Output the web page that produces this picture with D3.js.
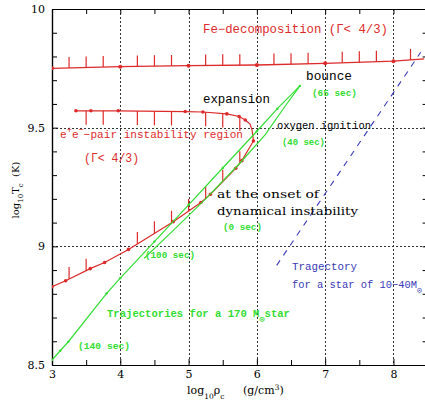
<!DOCTYPE html>
<html><head><meta charset="utf-8">
<script src="https://cdn.jsdelivr.net/npm/d3@7"></script>
<style>body{margin:0;background:#fff;overflow:hidden}</style>
</head><body>
<script>
// ---- axes ----
const xMajor = [3, 4, 5, 6, 7, 8];
const xLabels = ["3", "4", "5", "6", "7", "8"];
const xMinor = [3.5, 4.5, 5.5, 6.5, 7.5, 8.5];
const yMajor = [8.5, 9, 9.5, 10];
const yLabels = ["8.5", "9", "9.5", "10"];
const yMinor = [8.6, 8.7, 8.8, 8.9, 9.1, 9.2, 9.3, 9.4, 9.6, 9.7, 9.8, 9.9];
const xGrid = [4, 5, 6, 7, 8];
const yGrid = [9, 9.5];

// ---- Fe-decomposition boundary ----
const feLine = [[3.0, 9.750], [4.0, 9.757], [5.0, 9.761], [6.0, 9.764], [7.0, 9.771], [8.0, 9.780], [8.45, 9.79]];
const feDotsX = [3, 4, 5, 6, 7, 8];
const feTicksX = [3.25, 3.5, 3.75, 4.25, 4.5, 4.75, 5.25, 5.5, 5.75, 6.25, 6.5, 6.75, 7.25, 7.5, 7.75, 8.25];

// ---- e+e- pair instability boundary ----
const pairUpper = [[3.35, 9.571], [3.57, 9.571], [3.97, 9.571], [4.95, 9.568], [5.21, 9.566], [5.56, 9.558], [5.74, 9.547], [5.83, 9.532]];
const pairTurn = [[5.9, 9.515], [5.93, 9.49], [5.945, 9.455]];
const pairLower = [[5.95, 9.444], [5.78, 9.361], [5.69, 9.329], [5.32, 9.219], [5.18, 9.185], [4.776, 9.104], [4.12, 8.987], [3.77, 8.932], [3.56, 8.906], [3.20, 8.855], [3.0, 8.830]];
const pairUpperTicksX = [3.5, 3.75, 4.25, 4.5, 4.75, 5.25, 5.5, 5.75];
const pairLowerTicksX = [3.25, 3.5, 4.25, 4.5, 4.75, 5.0, 5.25, 5.5, 5.75];

// ---- 170 Msun trajectories ----
const greenExpansion = [[3.0, 8.521], [3.12, 8.56], [3.24, 8.598], [3.8, 8.802], [4.0, 8.866], [4.5, 9.02], [5.0, 9.175], [5.5, 9.33], [6.0, 9.485], [6.3, 9.58], [6.63, 9.676]];
const greenCollapse = [[4.35, 8.95], [4.75, 9.06], [5.25, 9.2], [5.75, 9.35], [6.12, 9.47], [6.4, 9.585], [6.63, 9.676]];

// ---- 10-40 Msun trajectory ----
const blueLine = [[6.29, 8.92], [8.4, 9.818]];

const W = 425, H = 401;
const x = d3.scaleLinear().domain([3, 8.5]).range([52, 427.6]);
const y = d3.scaleLinear().domain([8.5, 10]).range([365, 9]);

const RED = "#dd2a2a", GREEN = "#33dd33", BLUE = "#3a3ab8";
const svg = d3.select("body").append("svg").attr("width", W).attr("height", H);

svg.append("defs").append("clipPath").attr("id", "clip")
  .append("rect").attr("x", x(3)).attr("y", y(10)).attr("width", x(8.5) - x(3)).attr("height", y(8.5) - y(10));

// grid
const grid = svg.append("g").attr("stroke", "#333").attr("stroke-width", 1).attr("stroke-dasharray", "2,2");
grid.selectAll("line.vx").data(xGrid).join("line")
  .attr("x1", d => Math.round(x(d)) + 0.5).attr("x2", d => Math.round(x(d)) + 0.5)
  .attr("y1", y(10)).attr("y2", y(8.5));
grid.selectAll("line.hy").data(yGrid).join("line")
  .attr("y1", d => Math.round(y(d)) + 0.5).attr("y2", d => Math.round(y(d)) + 0.5)
  .attr("x1", x(3)).attr("x2", x(8.5));

// axes with inward ticks
const axG = svg.append("g");
function addAxis(axis, tx, ty) {
  const g = axG.append("g").attr("transform", `translate(${tx},${ty})`).call(axis);
  g.select(".domain").attr("stroke", "#000").attr("stroke-width", 1.2);
  g.selectAll(".tick line").attr("stroke", "#000");
  return g;
}
const fontTick = "'DejaVu Serif', serif";
const bx = addAxis(d3.axisBottom(x).tickValues(xMajor).tickSize(-6).tickSizeOuter(0).tickPadding(5).tickFormat((d, i) => xLabels[i]), 0, y(8.5));
bx.selectAll("text").attr("font-family", fontTick).attr("font-size", 11).attr("fill", "#000");
addAxis(d3.axisBottom(x).tickValues(xMinor).tickSize(-5).tickSizeOuter(0).tickFormat(""), 0, y(8.5));
addAxis(d3.axisTop(x).tickValues(xMajor.concat(xMinor)).tickSize(-5).tickSizeOuter(0).tickFormat(""), 0, y(10));
const ly = addAxis(d3.axisLeft(y).tickValues(yMajor).tickSize(-6).tickSizeOuter(0).tickPadding(7).tickFormat((d, i) => yLabels[i]), x(3), 0);
ly.selectAll("text").attr("font-family", fontTick).attr("font-size", 11).attr("fill", "#000");
addAxis(d3.axisLeft(y).tickValues(yMinor).tickSize(-5).tickSizeOuter(0).tickFormat(""), x(3), 0);
addAxis(d3.axisRight(y).tickValues(yMajor.concat(yMinor)).tickSize(-5).tickSizeOuter(0).tickFormat(""), x(8.5), 0);

// helpers
function interp(series, xv) {
  const s = series.slice().sort((a, b) => a[0] - b[0]);
  for (let i = 0; i < s.length - 1; i++) {
    if (xv >= s[i][0] && xv <= s[i + 1][0]) {
      const t = (xv - s[i][0]) / (s[i + 1][0] - s[i][0]);
      return s[i][1] + t * (s[i + 1][1] - s[i][1]);
    }
  }
  return s[s.length - 1][1];
}
const line = d3.line().x(d => x(d[0])).y(d => y(d[1]));
const plot = svg.append("g").attr("clip-path", "url(#clip)");

// Fe boundary
plot.append("path").attr("d", line(feLine)).attr("fill", "none").attr("stroke", RED).attr("stroke-width", 1.3);
plot.selectAll("circle.fe").data(feDotsX).join("circle").attr("class", "fe")
  .attr("cx", d => x(d)).attr("cy", d => y(interp(feLine, d))).attr("r", 2).attr("fill", RED);
plot.selectAll("line.fet").data(feTicksX).join("line").attr("class", "fet")
  .attr("x1", d => x(d)).attr("x2", d => x(d))
  .attr("y1", d => y(interp(feLine, d))).attr("y2", d => y(interp(feLine, d)) - 11)
  .attr("stroke", RED).attr("stroke-width", 1.2);

// pair boundary
const pairPath = pairUpper.concat(pairTurn, pairLower);
plot.append("path").attr("d", line(pairPath)).attr("fill", "none").attr("stroke", RED).attr("stroke-width", 1.2);
plot.selectAll("circle.pr").data(pairUpper.concat(pairLower)).join("circle").attr("class", "pr")
  .attr("cx", d => x(d[0])).attr("cy", d => y(d[1])).attr("r", 1.8).attr("fill", RED);
plot.selectAll("line.put").data(pairUpperTicksX).join("line").attr("class", "put")
  .attr("x1", d => x(d)).attr("x2", d => x(d))
  .attr("y1", d => y(interp(pairUpper, d))).attr("y2", d => y(interp(pairUpper, d)) + 14)
  .attr("stroke", RED).attr("stroke-width", 1.2);
plot.selectAll("line.plt").data(pairLowerTicksX).join("line").attr("class", "plt")
  .attr("x1", d => x(d)).attr("x2", d => x(d))
  .attr("y1", d => y(interp(pairLower, d))).attr("y2", d => y(interp(pairLower, d)) - 12)
  .attr("stroke", RED).attr("stroke-width", 1.2);

// green trajectories
[greenExpansion, greenCollapse].forEach(s => {
  plot.append("path").attr("d", line(s)).attr("fill", "none").attr("stroke", GREEN).attr("stroke-width", 1.2);
});
plot.selectAll("circle.gr").data(greenExpansion).join("circle").attr("class", "gr")
  .attr("cx", d => x(d[0])).attr("cy", d => y(d[1])).attr("r", 1.2).attr("fill", GREEN);

// blue dashed
plot.append("path").attr("d", line(blueLine)).attr("fill", "none").attr("stroke", BLUE)
  .attr("stroke-width", 1.1).attr("stroke-dasharray", "6,6");

// annotations
const MONO = "'Liberation Mono', 'DejaVu Sans Mono', monospace";
const SERIF = "'DejaVu Serif', serif";
function label(txt, xv, yv, opts) {
  const t = svg.append("text").attr("x", x(xv)).attr("y", y(yv))
    .attr("font-family", opts.font || MONO).attr("font-size", opts.size || 12)
    .attr("fill", opts.color || "#000").attr("font-weight", opts.bold ? "bold" : "normal");
  if (opts.len) t.attr("textLength", opts.len).attr("lengthAdjust", "spacingAndGlyphs");
  if (Array.isArray(txt)) {
    txt.forEach(p => {
      const ts = t.append("tspan").text(p.t);
      if (p.sup) ts.attr("baseline-shift", "super").attr("font-size", (opts.size || 12) * 0.8);
      if (p.sub) ts.attr("baseline-shift", "sub").attr("font-size", (opts.size || 12) * 0.8);
    });
  } else t.text(txt);
  return t;
}
label("Fe\u2212decomposition (\u0393< 4/3)", 5.211, 9.899, {color: RED, size: 12, len: 185});
label([{t: "e"}, {t: "+", sup: 1}, {t: "e"}, {t: "\u2212", sup: 1}, {t: "\u2212pair instability region"}], 3.117, 9.456, {color: RED, size: 11.6, font: MONO, len: 183});
label("(\u0393< 4/3)", 3.469, 9.355, {color: RED, size: 12, len: 55});
label("expansion", 5.211, 9.604, {size: 12, len: 67});
label("bounce", 6.719, 9.701, {size: 12, len: 46});
label("(65 sec)", 6.807, 9.633, {color: GREEN, size: 9.5, bold: 1, len: 45});
label("oxygen ignition", 6.294, 9.494, {size: 11, len: 94});
label("(40 sec)", 6.367, 9.427, {color: GREEN, size: 9.5, bold: 1, len: 43});
label("at the onset of", 5.416, 9.204, {font: SERIF, size: 11, len: 102});
label("dynamical instability", 5.416, 9.132, {font: SERIF, size: 11, len: 141});
label("(0 sec)", 5.504, 9.069, {color: GREEN, size: 9.5, bold: 1, len: 39});
label("(100 sec)", 4.362, 8.951, {color: GREEN, size: 9.5, bold: 1, len: 50});
label("(140 sec)", 3.381, 8.567, {color: GREEN, size: 9.5, bold: 1, len: 52});
label([{t: "Trajectories for a 170 M"}, {t: "\u2299", sub: 1}, {t: "star"}], 3.805, 8.702, {color: GREEN, size: 10.5, bold: 1, len: 183});
label("Tragectory", 6.514, 8.900, {color: BLUE, size: 11, len: 65});
label([{t: "for a star of 10\u221240M"}, {t: "\u2299", sub: 1}], 6.514, 8.824, {color: BLUE, size: 11, len: 130});

// axis titles
const xt = svg.append("text").attr("x", 187).attr("y", 394).attr("font-family", SERIF).attr("font-size", 11).attr("fill", "#000");
xt.append("tspan").text("log");
xt.append("tspan").text("10").attr("baseline-shift", "sub").attr("font-size", 7.5);
xt.append("tspan").text("\u03c1");
xt.append("tspan").text("c").attr("baseline-shift", "sub").attr("font-size", 7.5);
xt.append("tspan").text("(g/cm").attr("x", 243);
xt.append("tspan").text("3").attr("baseline-shift", "super").attr("font-size", 7.5);
xt.append("tspan").text(")");

const yt = svg.append("text").attr("transform", "translate(19,190) rotate(-90)").attr("text-anchor", "middle")
  .attr("font-family", SERIF).attr("font-size", 10).attr("fill", "#000");
yt.append("tspan").text("log");
yt.append("tspan").text("10").attr("baseline-shift", "sub").attr("font-size", 7);
yt.append("tspan").text("T");
yt.append("tspan").text("c").attr("baseline-shift", "sub").attr("font-size", 7);
yt.append("tspan").text("\u00a0\u00a0(K)");
</script>
</body></html>
